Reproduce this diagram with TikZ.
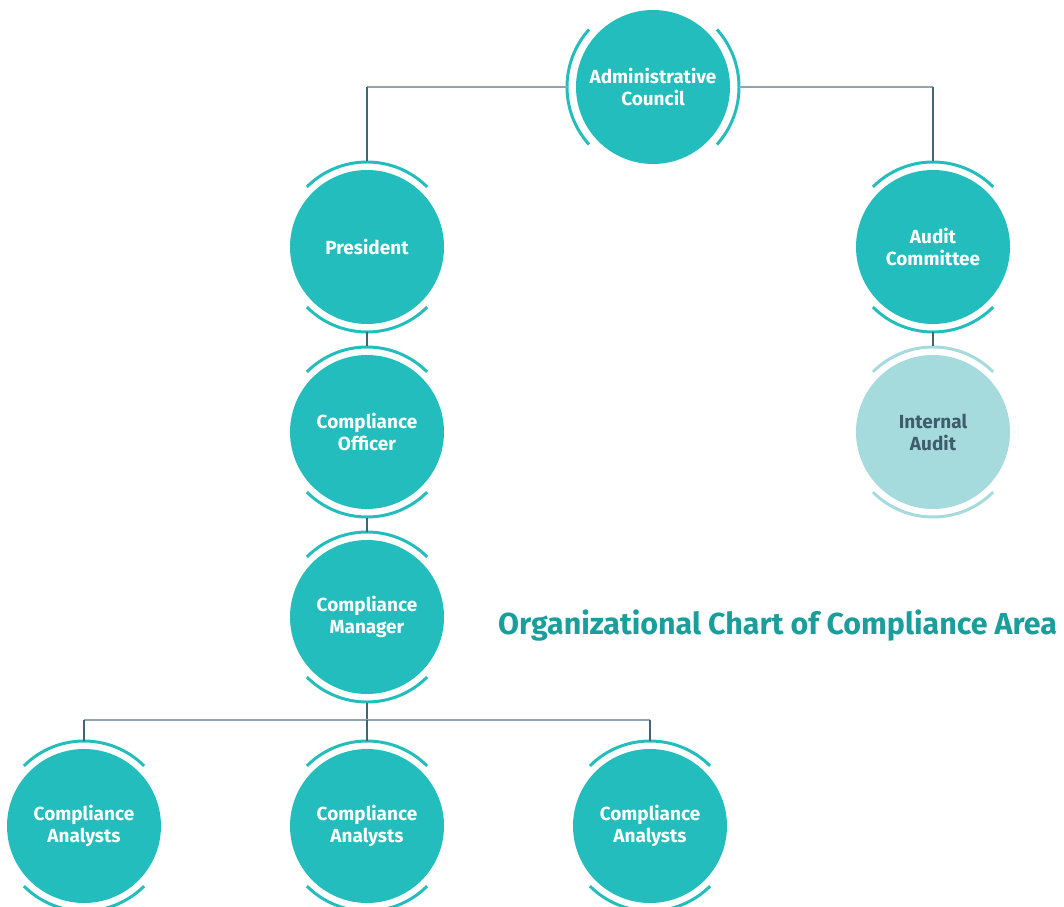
\documentclass[tikz,border=0pt]{standalone}
\usepackage{fontspec}
\setmainfont{Fira Sans}
\usetikzlibrary{positioning}

\definecolor{unitfill}{HTML}{22BDBC}
\definecolor{auditfill}{HTML}{A5DBDC}
\definecolor{titlecol}{HTML}{1A9E9C}
\definecolor{audittext}{HTML}{3E5C6B}
\definecolor{vlinecol}{HTML}{3F6673}
\definecolor{hlinecol}{HTML}{8FA5AF}

\tikzset{
   unit/.style={circle, fill=unitfill, minimum size=3.08cm, inner sep=0pt,
      outer sep=0.17cm, align=center, text=white,
      font=\bfseries\fontsize{10.8}{12.5}\selectfont},
   lightunit/.style={unit, fill=auditfill, text=audittext},
   ring/.style={draw=unitfill, line width=1.7pt},
   lightring/.style={draw=auditfill, line width=1.7pt},
   vline/.style={draw=vlinecol, line width=0.6pt},
   hline/.style={draw=hlinecol, line width=0.8pt}
}

% arcs above and below a unit
\newcommand\ringsNS[2][ring]{%
   \draw[#1] (#2.center) ++(45:1.7) arc (45:135:1.7);
   \draw[#1] (#2.center) ++(-45:1.7) arc (-45:-135:1.7);}
% arcs left and right of a unit
\newcommand\ringsEW[2][ring]{%
   \draw[#1] (#2.center) ++(42:1.72) arc (42:-42:1.72);
   \draw[#1] (#2.center) ++(138:1.72) arc (138:222:1.72);}

\begin{document}
\begin{tikzpicture}[on grid]
   \useasboundingbox (0,0) rectangle (21.28,-18.14);

   % top of the chart
   \node[unit] (admin) at (13.06,-1.74) {Administrative\\Council};
   \node[unit, below left=3.2cm and 5.72cm of admin]  (pres)  {President};
   \node[unit, below right=3.2cm and 5.6cm of admin]  (audit) {Audit\\Committee};

   % compliance line
   \node[unit, below=3.7cm of pres]   (officer) {Compliance\\Officer};
   \node[unit, below=3.7cm of officer] (manager) {Compliance\\Manager};
   \node[lightunit, below=3.7cm of audit] (internal) {Internal\\Audit};

   % analysts
   \node[unit, below=4.18cm of manager]            (analyst2) {Compliance\\Analysts};
   \node[unit, left=5.66cm of analyst2]            (analyst1) {Compliance\\Analysts};
   \node[unit, right=5.66cm of analyst2]           (analyst3) {Compliance\\Analysts};
   \coordinate[below=2.06cm of manager] (bus);

   \ringsEW{admin}
   \ringsNS{pres}
   \ringsNS{audit}
   \ringsNS{officer}
   \ringsNS{manager}
   \ringsNS[lightring]{internal}
   \ringsNS{analyst1}
   \ringsNS{analyst2}
   \ringsNS{analyst3}

   % connectors
   \draw[hline] (admin) -- (admin -| pres);
   \draw[hline] (admin) -- (admin -| audit);
   \draw[vline] (admin -| pres) -- (pres);
   \draw[vline] (admin -| audit) -- (audit);
   \draw[vline] (pres) -- (officer);
   \draw[vline] (officer) -- (manager);
   \draw[vline] (audit) -- (internal);
   \draw[vline] (manager) -- (bus);
   \draw[hline] (bus -| analyst1) -- (bus -| analyst3);
   \draw[vline] (bus -| analyst1) -- (analyst1);
   \draw[vline] (bus) -- (analyst2);
   \draw[vline] (bus -| analyst3) -- (analyst3);

   \node[anchor=base west, text=titlecol,
      font=\bfseries\fontsize{17.3}{20}\selectfont] (title) at (9.84,-12.68)
      {Organizational Chart of Compliance Area};
\end{tikzpicture}
\end{document}
